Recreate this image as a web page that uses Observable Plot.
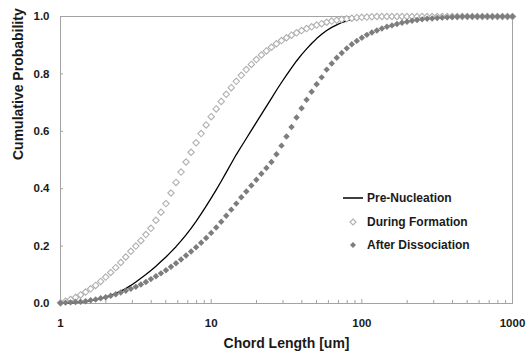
<!DOCTYPE html>
<html>
<head>
<meta charset="utf-8">
<script src="https://cdn.jsdelivr.net/npm/d3@7"></script>
<script src="https://cdn.jsdelivr.net/npm/@observablehq/plot@0.6"></script>
<style>
  body { margin: 0; background: #fff; }
  #chart { position: relative; width: 526px; height: 356px; font-family: "Liberation Sans", Arial, sans-serif; }
  #chart svg { display: block; }
  .legend { position: absolute; left: 340px; top: 186px; font-weight: bold; font-size: 12px; color: #1a1a1a; }
  .legend .row { height: 23.7px; display: flex; align-items: center; }
  .legend svg { width: 26px; height: 12px; margin-right: 1px; }
</style>
</head>
<body>
<div id="chart"></div>
<script>
// Chord length channels (um), logarithmic from 1 to 1000
const chordLength = [
  1, 1.08, 1.166, 1.259, 1.359, 1.468, 1.585, 1.711, 1.848, 1.995,
  2.154, 2.326, 2.512, 2.712, 2.929, 3.162, 3.415, 3.687, 3.981, 4.299,
  4.642, 5.012, 5.412, 5.843, 6.31, 6.813, 7.356, 7.943, 8.577, 9.261,
  10, 10.8, 11.66, 12.59, 13.59, 14.68, 15.85, 17.11, 18.48, 19.95,
  21.54, 23.26, 25.12, 27.12, 29.29, 31.62, 34.15, 36.87, 39.81, 42.99,
  46.42, 50.12, 54.12, 58.43, 63.1, 68.13, 73.56, 79.43, 85.77, 92.61,
  100, 108, 116.6, 125.9, 135.9, 146.8, 158.5, 171.1, 184.8, 199.5,
  215.4, 232.6, 251.2, 271.2, 292.9, 316.2, 341.5, 368.7, 398.1, 429.9,
  464.2, 501.2, 541.2, 584.3, 631, 681.3, 735.6, 794.3, 857.7, 926.1,
  1000
];

// Cumulative probability per channel
const preNucleation = [
  0.000, 0.001, 0.002, 0.003, 0.005, 0.007, 0.010, 0.013, 0.017, 0.022,
  0.028, 0.035, 0.043, 0.052, 0.063, 0.075, 0.088, 0.101, 0.115, 0.130,
  0.146, 0.162, 0.180, 0.198, 0.218, 0.239, 0.262, 0.286, 0.312, 0.339,
  0.367, 0.396, 0.426, 0.457, 0.488, 0.519, 0.547, 0.575, 0.603, 0.631,
  0.659, 0.687, 0.715, 0.743, 0.770, 0.796, 0.821, 0.845, 0.867, 0.887,
  0.906, 0.923, 0.938, 0.951, 0.962, 0.971, 0.979, 0.985, 0.990, 0.993,
  0.995, 0.997, 0.998, 0.999, 0.999, 1, 1, 1, 1, 1,
  1, 1, 1, 1, 1, 1, 1, 1, 1, 1,
  1, 1, 1, 1, 1, 1, 1, 1, 1, 1,
  1
];

const duringFormation = [
  0.003, 0.008, 0.014, 0.021, 0.030, 0.040, 0.051, 0.063, 0.077, 0.092,
  0.108, 0.125, 0.143, 0.162, 0.182, 0.200, 0.219, 0.240, 0.262, 0.290,
  0.318, 0.348, 0.385, 0.422, 0.458, 0.493, 0.527, 0.560, 0.592, 0.622,
  0.651, 0.678, 0.704, 0.729, 0.752, 0.774, 0.795, 0.815, 0.833, 0.850,
  0.866, 0.880, 0.893, 0.905, 0.916, 0.926, 0.935, 0.943, 0.951, 0.958,
  0.964, 0.970, 0.975, 0.980, 0.984, 0.987, 0.990, 0.992, 0.994, 0.996,
  0.997, 0.998, 0.999, 1, 1, 1, 1, 1, 1, 1,
  1, 1, 1, 1, 1, 1, 1, 1, 1, 1,
  1, 1, 1, 1, 1, 1, 1, 1, 1, 1,
  1
];

const afterDissociation = [
  0.002, 0.003, 0.004, 0.005, 0.006, 0.008, 0.011, 0.014, 0.018, 0.022,
  0.027, 0.032, 0.038, 0.044, 0.051, 0.058, 0.066, 0.075, 0.085, 0.095,
  0.105, 0.116, 0.128, 0.140, 0.153, 0.167, 0.181, 0.196, 0.212, 0.228,
  0.246, 0.265, 0.285, 0.306, 0.327, 0.348, 0.370, 0.390, 0.411, 0.431,
  0.452, 0.472, 0.493, 0.520, 0.550, 0.582, 0.615, 0.648, 0.680, 0.710,
  0.738, 0.764, 0.788, 0.815, 0.836, 0.856, 0.873, 0.889, 0.903, 0.915,
  0.926, 0.936, 0.944, 0.951, 0.958, 0.964, 0.969, 0.974, 0.978, 0.982,
  0.985, 0.988, 0.990, 0.992, 0.993, 0.995, 0.996, 0.997, 0.998, 0.999,
  1, 1, 1, 1, 1, 1, 1, 1, 1, 1,
  1
];

const seriesNames = ["Pre-Nucleation", "During Formation", "After Dissociation"];

const xTicks = [1, 10, 100, 1000];
const xMinorTicks = [
  2, 3, 4, 5, 6, 7, 8, 9,
  20, 30, 40, 50, 60, 70, 80, 90,
  200, 300, 400, 500, 600, 700, 800, 900
];
const yTicks = [0, 0.2, 0.4, 0.6, 0.8, 1.0];

const W = 526, H = 356;
const margin = {left: 60, right: 14, top: 16, bottom: 53};
const frameW = W - margin.left - margin.right;
const frameH = H - margin.top - margin.bottom;

const axisGray = "#a3a3a3";
const toRows = (ys) => chordLength.map((x, i) => ({x, y: ys[i]}));

const plot = Plot.plot({
  width: W,
  height: H,
  marginLeft: margin.left,
  marginRight: margin.right,
  marginTop: margin.top,
  marginBottom: margin.bottom,
  style: {fontFamily: "'Liberation Sans', Arial, sans-serif", fontWeight: "bold", color: "#1a1a1a", background: "#fff", overflow: "visible"},
  x: {type: "log", domain: [1, 1000]},
  y: {domain: [0, 1]},
  marks: [
    Plot.frame({stroke: axisGray}),
    // short inward tick marks along the bottom and left edges
    Plot.ruleX(xMinorTicks, {stroke: axisGray, insetTop: frameH - 3}),
    Plot.ruleX(xTicks, {stroke: axisGray, insetTop: frameH - 4}),
    Plot.ruleY(yTicks, {stroke: axisGray, insetRight: frameW - 3}),
    // tick labels
    Plot.axisX(xTicks, {tickSize: 0, tickPadding: 15, fontSize: 11.5, tickFormat: d3.format("d"), label: null}),
    Plot.axisY(yTicks, {tickSize: 0, tickPadding: 11, fontSize: 11.5, tickFormat: d3.format(".1f"), label: null}),
    // axis titles
    Plot.text(["Chord Length [um]"], {frameAnchor: "bottom", dy: 44, fontSize: 14, fontWeight: "bold", fill: "#1a1a1a"}),
    Plot.text(["Cumulative Probability"], {frameAnchor: "left", dx: -42, rotate: -90, fontSize: 14, fontWeight: "bold", fill: "#1a1a1a"}),
    // series
    Plot.line(toRows(preNucleation), {x: "x", y: "y", stroke: "#000", strokeWidth: 1.3}),
    Plot.dot(toRows(duringFormation), {x: "x", y: "y", symbol: "diamond2", r: 2.9, stroke: "#b0b0b0", fill: "#fff", strokeWidth: 1.1}),
    Plot.dot(toRows(afterDissociation), {x: "x", y: "y", symbol: "diamond2", r: 2.9, fill: "#7d7d7d", stroke: "none"})
  ]
});

const chart = document.getElementById("chart");
chart.appendChild(plot);

// legend
const swatches = [
  `<svg viewBox="0 0 26 12"><line x1="3" y1="6" x2="23" y2="6" stroke="#000" stroke-width="1.5"/></svg>`,
  `<svg viewBox="0 0 26 12"><path d="M13 3 L16 6 L13 9 L10 6 Z" fill="#fff" stroke="#b0b0b0" stroke-width="1.1"/></svg>`,
  `<svg viewBox="0 0 26 12"><path d="M13 3 L16 6 L13 9 L10 6 Z" fill="#7d7d7d"/></svg>`
];
const legend = document.createElement("div");
legend.className = "legend";
legend.innerHTML = seriesNames.map((name, i) => `<div class="row">${swatches[i]}<span>${name}</span></div>`).join("");
chart.appendChild(legend);
</script>
</body>
</html>
